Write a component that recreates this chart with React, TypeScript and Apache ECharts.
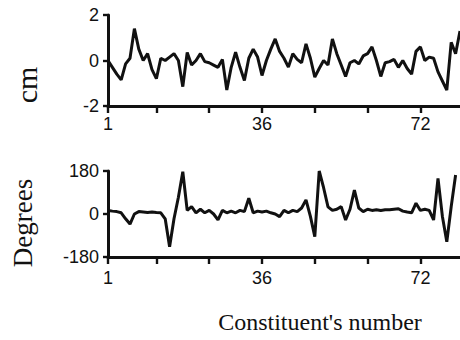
import React, { useEffect, useRef } from "react";
import * as echarts from "echarts";

// Constituent numbers 1..81 (top) and 1..80 (bottom)
const amplitudeCm = [
  0.0, -0.3, -0.6, -0.85, -0.15, 0.1, 1.4, 0.5, 0.0, 0.3,
  -0.4, -0.8, 0.1, 0.0, 0.15, 0.3, 0.0, -1.15, 0.35, -0.2,
  0.0, 0.3, -0.05, -0.1, -0.2, -0.3, 0.05, -1.3, -0.3, 0.37,
  -0.3, -0.88, 0.1, 0.5, 0.15, -0.66, 0.0, 0.5, 0.95, 0.4,
  0.1, -0.29, 0.3, 0.05, -0.1, 0.73, 0.1, -0.73, -0.35, 0.0,
  -0.2, 0.95, 0.3, -0.2, -0.7, -0.1, 0.0, -0.15, 0.2, 0.3,
  0.6, 0.0, -0.7, -0.1, -0.05, 0.05, -0.3, 0.0, -0.35, -0.6,
  0.4, 0.6, 0.0, 0.15, 0.1, -0.5, -0.9, -1.3, 0.8, 0.3,
  1.3,
];

const phaseDeg = [
  15, 12, 10, 5, -20, -42, 0, 10, 8, 6,
  8, 6, 5, -20, -137, -20, 70, 177, 15, 31,
  5, 20, 5, 15, 0, -25, 15, 5, 12, 5,
  15, 10, 66, 5, 12, 8, 12, 5, 0, -11,
  15, 5, 15, 10, 25, 59, -10, -95, 180, 110,
  30, 15, 20, 31, -25, 20, 100, 25, 10, 20,
  15, 18, 15, 18, 18, 20, 22, 12, 8, 5,
  45, 15, 20, 15, -25, 149, -10, -116, 31, 163,
];

const xTickValues = [1, 12, 24, 36, 48, 60, 72];
const xLabelValues = [1, 36, 72];
const cmTicks = { min: -2, max: 2, interval: 2 };
const degTicks = { min: -180, max: 180, interval: 180 };

const INK = "#111111";

export default function App() {
  const ref = useRef<HTMLDivElement>(null);

  useEffect(() => {
    document.body.style.margin = "0";
    if (!ref.current) return;
    const chart = echarts.init(ref.current, null, { renderer: "svg" });

    const axisLine = { show: true, onZero: false, lineStyle: { color: INK, width: 3 } };
    const labelStyle = {
      color: INK,
      fontFamily: "Liberation Sans, Arial, sans-serif",
      fontSize: 18,
    };

    const xAxisBase = (margin: number) => ({
      type: "value" as const,
      min: 1,
      max: 81,
      axisLine,
      splitLine: { show: false },
      axisTick: {
        show: true,
        customValues: xTickValues,
        length: 7,
        inside: false,
        lineStyle: { color: INK, width: 2.4 },
      },
      axisLabel: {
        ...labelStyle,
        margin,
        customValues: xLabelValues,
        formatter: (v: number) => String(v),
      },
    });

    const yAxisBase = (t: { min: number; max: number; interval: number }) => ({
      type: "value" as const,
      min: t.min,
      max: t.max,
      interval: t.interval,
      axisLine,
      splitLine: { show: false },
      axisTick: { show: true, length: 5, lineStyle: { color: INK, width: 2.4 } },
      axisLabel: { ...labelStyle, margin: 9 },
    });

    const top = amplitudeCm.map((v, i) => [i + 1, v]);
    const bottom = phaseDeg.map((v, i) => [i + 1, v]);

    chart.setOption({
      animation: false,
      backgroundColor: "#ffffff",
      grid: [
        { left: 108, top: 15, width: 352, height: 91 },
        { left: 108, top: 171, width: 352, height: 86 },
      ],
      xAxis: [
        { ...xAxisBase(9), gridIndex: 0 },
        { ...xAxisBase(12), gridIndex: 1 },
      ],
      yAxis: [
        { ...yAxisBase(cmTicks), gridIndex: 0 },
        { ...yAxisBase(degTicks), gridIndex: 1 },
      ],
      series: [
        {
          type: "line",
          xAxisIndex: 0,
          yAxisIndex: 0,
          data: top,
          showSymbol: false,
          lineStyle: { color: INK, width: 3 },
          clip: false,
        },
        {
          type: "line",
          xAxisIndex: 1,
          yAxisIndex: 1,
          data: bottom,
          showSymbol: false,
          lineStyle: { color: INK, width: 3 },
          clip: false,
        },
      ],
      graphic: [
        {
          type: "text",
          x: 26,
          y: 85,
          rotation: Math.PI / 2,
          style: {
            text: "cm",
            fill: INK,
            font: "30px 'Liberation Serif', serif",
            align: "center",
            verticalAlign: "middle",
          },
        },
        {
          type: "text",
          x: 23,
          y: 223,
          rotation: Math.PI / 2,
          style: {
            text: "Degrees",
            fill: INK,
            font: "27px 'Liberation Serif', serif",
            align: "center",
            verticalAlign: "middle",
          },
        },
        {
          type: "text",
          x: 320,
          y: 322,
          style: {
            text: "Constituent's number",
            fill: INK,
            font: "24px 'Liberation Serif', serif",
            align: "center",
            verticalAlign: "middle",
          },
        },
      ],
    });

    return () => chart.dispose();
  }, []);

  return <div ref={ref} style={{ width: 460, height: 340 }} />;
}
